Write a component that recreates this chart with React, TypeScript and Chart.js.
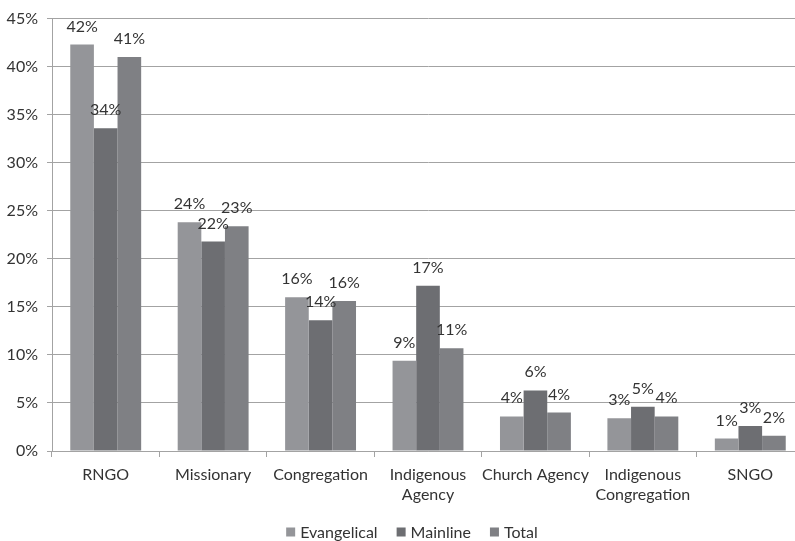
import React, { useEffect, useRef } from "react";
import { Chart, registerables } from "chart.js";

Chart.register(...registerables);

// Share of respondents by type of organisation
const categories: string[][] = [
  ["RNGO"],
  ["Missionary"],
  ["Congregation"],
  ["Indigenous", "Agency"],
  ["Church Agency"],
  ["Indigenous", "Congregation"],
  ["SNGO"],
];
const evangelical = [42.3, 23.8, 16.0, 9.4, 3.6, 3.4, 1.3];
const mainline = [33.6, 21.8, 13.6, 17.2, 6.3, 4.6, 2.6];
const total = [41.0, 23.4, 15.6, 10.7, 4.0, 3.6, 1.6];
const seriesNames = ["Evangelical", "Mainline", "Total"];
const seriesColors = ["#949599", "#6d6e72", "#7f8084"];
const yMax = 45;
const yStep = 5;

const FONT = "Lato, 'DejaVu Sans', sans-serif";
const TEXT = "#333333";
const GRID = "#a3a3a3";

const valueLabels = {
  id: "valueLabels",
  afterDatasetsDraw(chart: any) {
    const ctx = chart.ctx;
    ctx.save();
    ctx.font = `16px ${FONT}`;
    ctx.fillStyle = TEXT;
    ctx.textAlign = "center";
    ctx.textBaseline = "alphabetic";
    chart.data.datasets.forEach((ds: any, i: number) => {
      const meta = chart.getDatasetMeta(i);
      meta.data.forEach((bar: any, j: number) => {
        const v = ds.data[j] as number;
        ctx.fillText(`${Math.round(v)}%`, bar.x, bar.y - 13);
      });
    });
    ctx.restore();
  },
};

const bottomLegend = {
  id: "bottomLegend",
  afterDraw(chart: any) {
    const ctx = chart.ctx;
    ctx.save();
    ctx.font = `16px ${FONT}`;
    ctx.textBaseline = "middle";
    ctx.textAlign = "left";
    const box = 9;
    const gap = 5;
    const spacing = 19;
    const items = chart.data.datasets.map((ds: any) => ({
      label: ds.label,
      color: ds.backgroundColor,
      w: ctx.measureText(ds.label).width,
    }));
    const totalW = items.reduce((s: number, it: any) => s + box + gap + it.w, 0) + spacing * (items.length - 1);
    let x = 412 - totalW / 2;
    const y = 532;
    items.forEach((it: any) => {
      ctx.fillStyle = it.color;
      ctx.fillRect(x, y - box / 2, box, box);
      x += box + gap;
      ctx.fillStyle = TEXT;
      ctx.fillText(it.label, x, y + 1);
      x += it.w + spacing;
    });
    ctx.restore();
  },
};

export default function App() {
  const ref = useRef<HTMLCanvasElement | null>(null);

  useEffect(() => {
    document.body.style.margin = "0";
    const canvas = ref.current;
    if (!canvas) return;
    const chart = new Chart(canvas, {
      type: "bar",
      data: {
        labels: categories,
        datasets: [evangelical, mainline, total].map((d, i) => ({
          label: seriesNames[i],
          data: d,
          backgroundColor: seriesColors[i],
          borderWidth: 0,
          categoryPercentage: 0.66,
          barPercentage: 1,
        })),
      },
      options: {
        responsive: false,
        animation: false,
        layout: { padding: { top: 17, left: 0, right: 0, bottom: 0 } },
        plugins: {
          legend: { display: false },
          tooltip: { enabled: false },
        },
        scales: {
          x: {
            offset: true,
            grid: {
              display: true,
              offset: true,
              drawOnChartArea: false,
              drawTicks: true,
              tickLength: 6,
              color: GRID,
            },
            border: { display: true, color: GRID, width: 1 },
            ticks: {
              color: TEXT,
              font: { family: FONT, size: 16, lineHeight: 1.25 },
              padding: 8,
              maxRotation: 0,
              autoSkip: false,
            },
            afterFit(scale: any) {
              scale.height = 90;
            },
          },
          y: {
            min: 0,
            max: yMax,
            grid: {
              color: GRID,
              lineWidth: 1,
              tickLength: 5,
              drawTicks: true,
            },
            border: { display: true, color: GRID, width: 1 },
            ticks: {
              stepSize: yStep,
              color: TEXT,
              font: { family: FONT, size: 16 },
              padding: 9,
              callback: (v: any) => `${v}%`,
            },
            afterFit(scale: any) {
              scale.width = 52;
            },
          },
        },
      },
      plugins: [valueLabels, bottomLegend],
    });
    return () => chart.destroy();
  }, []);

  return (
    <div
      style={{
        position: "absolute",
        left: 0,
        top: 0,
        width: 795,
        height: 541,
        overflow: "hidden",
        background: "#ffffff",
      }}
    >
      <canvas ref={ref} width={804} height={541} style={{ width: 804, height: 541, display: "block" }} />
    </div>
  );
}
